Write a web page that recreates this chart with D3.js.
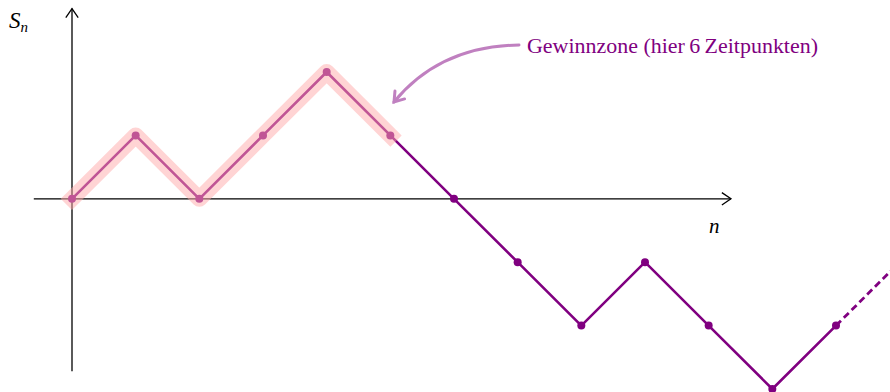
<!DOCTYPE html>
<html>
<head>
<meta charset="utf-8">
<script src="https://cdn.jsdelivr.net/npm/d3@7"></script>
<style>
  body { margin: 0; background: #fff; }
  svg { display: block; }
  text { font-family: "Liberation Serif", "DejaVu Serif", serif; }
</style>
</head>
<body>
<div id="chart"></div>
<script>
const steps = [0, 1, 2, 3, 4, 5, 6, 7, 8, 9, 10, 11, 12];
const values = [0, 1, 0, 1, 2, 1, 0, -1, -2, -1, -2, -3, -2];
const dashedSteps = [12, 13];
const dashedValues = [-2, -1];
const gainCount = 6;
const annotation = 'Gewinnzone (hier\u20096\u2009Zeitpunkten)';

const width = 890;
const height = 392;
const purple = '#800080';

const svg = d3.select('#chart').append('svg').attr('width', width).attr('height', height);

const x = d3.scaleLinear().domain([0, 12]).range([72, 836]);
const y = d3.scaleLinear().domain([-3, 2]).range([389, 72]);

const pts = steps.map((n, i) => ({ n, v: values[i] }));
const line = d3.line().x((d) => x(d.n)).y((d) => y(d.v));

// Achsen mit offenen Pfeilspitzen
function arrowHead(tipX, tipY, angle) {
  const len = 11, spread = 0.6;
  const a1 = angle + Math.PI - spread, a2 = angle + Math.PI + spread;
  return `M${tipX + len * Math.cos(a1)},${tipY + len * Math.sin(a1)} L${tipX},${tipY} L${tipX + len * Math.cos(a2)},${tipY + len * Math.sin(a2)}`;
}
const axisG = svg.append('g').attr('stroke', '#000').attr('stroke-width', 1.3).attr('fill', 'none');
axisG.append('line').attr('x1', x(-0.6)).attr('x2', x(10.35)).attr('y1', y(0)).attr('y2', y(0));
axisG.append('path').attr('d', arrowHead(x(10.35), y(0), 0));
axisG.append('line').attr('x1', x(0)).attr('x2', x(0)).attr('y1', y(-2.72)).attr('y2', y(3));
axisG.append('path').attr('d', arrowHead(x(0), y(3), -Math.PI / 2));

svg.append('text').attr('x', 709).attr('y', y(0) + 34)
  .attr('font-style', 'italic').attr('font-size', 21).text('n');
const sLabel = svg.append('text').attr('x', 9).attr('y', 28).attr('font-style', 'italic').attr('font-size', 23);
sLabel.append('tspan').text('S');
sLabel.append('tspan').attr('font-size', 15).attr('dy', 4).text('n');

// Pfad
svg.append('path').datum(pts).attr('d', line)
  .attr('fill', 'none').attr('stroke', purple).attr('stroke-width', 2.6).attr('stroke-linejoin', 'round');
svg.append('path')
  .datum(dashedSteps.map((n, i) => ({ n, v: dashedValues[i] })))
  .attr('d', line)
  .attr('fill', 'none').attr('stroke', purple).attr('stroke-width', 2.8).attr('stroke-dasharray', '7 4');
svg.selectAll('circle.pt').data(pts).join('circle').attr('class', 'pt')
  .attr('cx', (d) => x(d.n)).attr('cy', (d) => y(d.v)).attr('r', 4).attr('fill', purple);

// Gewinnzone hervorheben
svg.append('path').datum(pts.slice(0, gainCount)).attr('d', line)
  .attr('fill', 'none').attr('stroke', 'rgb(255,170,170)').attr('stroke-opacity', 0.5)
  .attr('stroke-width', 16).attr('stroke-linejoin', 'round').attr('stroke-linecap', 'square');

// Anmerkung mit Pfeil
const sx = 519, sy = 45, cx = 440, cy = 46, ex = 394, ey = 102;
const annG = svg.append('g').attr('stroke', '#c080c0').attr('stroke-width', 3).attr('fill', 'none').attr('stroke-linecap', 'round');
annG.append('path').attr('d', `M${sx},${sy} Q${cx},${cy} ${ex},${ey}`);
annG.append('path').attr('d', arrowHead(ex, ey, Math.atan2(ey - cy, ex - cx)));
svg.append('text').attr('x', 527).attr('y', 53).attr('font-size', 21).attr('fill', purple)
  .attr('textLength', 291).attr('lengthAdjust', 'spacingAndGlyphs').text(annotation);
</script>
</body>
</html>
